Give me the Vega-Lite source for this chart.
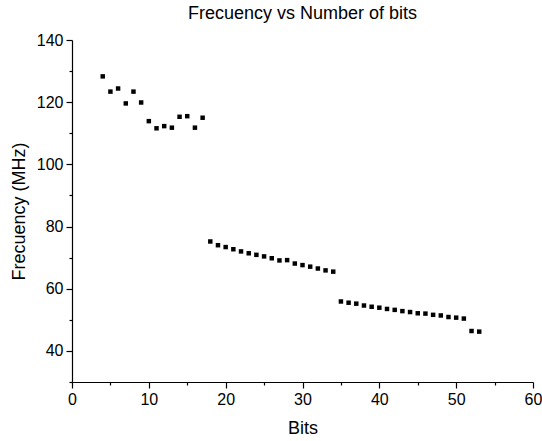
{
  "$schema": "https://vega.github.io/schema/vega-lite/v6.json",
  "autosize": "none",
  "width": 461,
  "height": 342,
  "padding": {"left": 72, "top": 40, "right": 9, "bottom": 59},
  "background": "white",
  "config": {
    "font": "Liberation Sans",
    "view": {"stroke": null},
    "axis": {"grid": false, "domainColor": "black", "tickColor": "black", "labelColor": "black", "titleColor": "black", "labelFont": "Liberation Sans", "titleFont": "Liberation Sans", "labelFontSize": 16, "titleFontSize": 18, "titleFontWeight": "normal", "domainWidth": 1.2, "tickWidth": 1.2}
  },
  "title": {"text": "Frecuency vs Number of bits", "fontSize": 18, "fontWeight": "normal", "font": "Liberation Sans", "color": "black", "offset": 9, "anchor": "middle"},
  "data": {"values": [
    {"bits": 4, "freq": 128.3}, {"bits": 5, "freq": 123.4}, {"bits": 6, "freq": 124.4}, {"bits": 7, "freq": 119.6},
    {"bits": 8, "freq": 123.4}, {"bits": 9, "freq": 119.9}, {"bits": 10, "freq": 113.9}, {"bits": 11, "freq": 111.6},
    {"bits": 12, "freq": 112.3}, {"bits": 13, "freq": 111.8}, {"bits": 14, "freq": 115.3}, {"bits": 15, "freq": 115.5},
    {"bits": 16, "freq": 111.8}, {"bits": 17, "freq": 115.0},
    {"bits": 18, "freq": 75.2}, {"bits": 19, "freq": 74.0}, {"bits": 20, "freq": 73.4}, {"bits": 21, "freq": 72.7},
    {"bits": 22, "freq": 72.0}, {"bits": 23, "freq": 71.4}, {"bits": 24, "freq": 70.9}, {"bits": 25, "freq": 70.4},
    {"bits": 26, "freq": 69.8}, {"bits": 27, "freq": 69.1}, {"bits": 28, "freq": 69.2}, {"bits": 29, "freq": 68.1},
    {"bits": 30, "freq": 67.6}, {"bits": 31, "freq": 67.1}, {"bits": 32, "freq": 66.5}, {"bits": 33, "freq": 65.9},
    {"bits": 34, "freq": 65.5},
    {"bits": 35, "freq": 55.9}, {"bits": 36, "freq": 55.5}, {"bits": 37, "freq": 55.2}, {"bits": 38, "freq": 54.6},
    {"bits": 39, "freq": 54.2}, {"bits": 40, "freq": 53.9}, {"bits": 41, "freq": 53.5}, {"bits": 42, "freq": 53.2},
    {"bits": 43, "freq": 52.8}, {"bits": 44, "freq": 52.5}, {"bits": 45, "freq": 52.1}, {"bits": 46, "freq": 52.0},
    {"bits": 47, "freq": 51.6}, {"bits": 48, "freq": 51.4}, {"bits": 49, "freq": 50.9}, {"bits": 50, "freq": 50.7},
    {"bits": 51, "freq": 50.4}, {"bits": 52, "freq": 46.4}, {"bits": 53, "freq": 46.2}
  ]},
  "layer": [
    {
      "mark": {"type": "point", "shape": "square", "filled": true, "color": "black", "size": 20, "opacity": 1},
      "encoding": {
        "x": {"field": "bits", "type": "quantitative", "scale": {"domain": [0, 60], "nice": false, "zero": false},
          "axis": {"values": [0, 10, 20, 30, 40, 50, 60], "title": "Bits", "tickSize": 6, "labelPadding": 3, "titlePadding": 12, "orient": "bottom", "labelFlush": false}},
        "y": {"field": "freq", "type": "quantitative", "scale": {"domain": [30, 140], "nice": false, "zero": false},
          "axis": {"values": [40, 60, 80, 100, 120, 140], "title": "Frecuency (MHz)", "tickSize": 6, "labelPadding": 3, "titlePadding": 8, "orient": "left", "labelFlush": false}}
      }
    },
    {
      "mark": {"type": "point", "opacity": 0},
      "encoding": {
        "x": {"field": "bits", "type": "quantitative", "axis": {"values": [5, 15, 25, 35, 45, 55], "labels": false, "domain": false, "tickSize": 3, "title": null, "orient": "bottom"}},
        "y": {"field": "freq", "type": "quantitative", "axis": {"values": [30, 50, 70, 90, 110, 130], "labels": false, "domain": false, "tickSize": 3, "title": null, "orient": "left"}}
      }
    }
  ],
  "resolve": {"axis": {"x": "independent", "y": "independent"}}
}
